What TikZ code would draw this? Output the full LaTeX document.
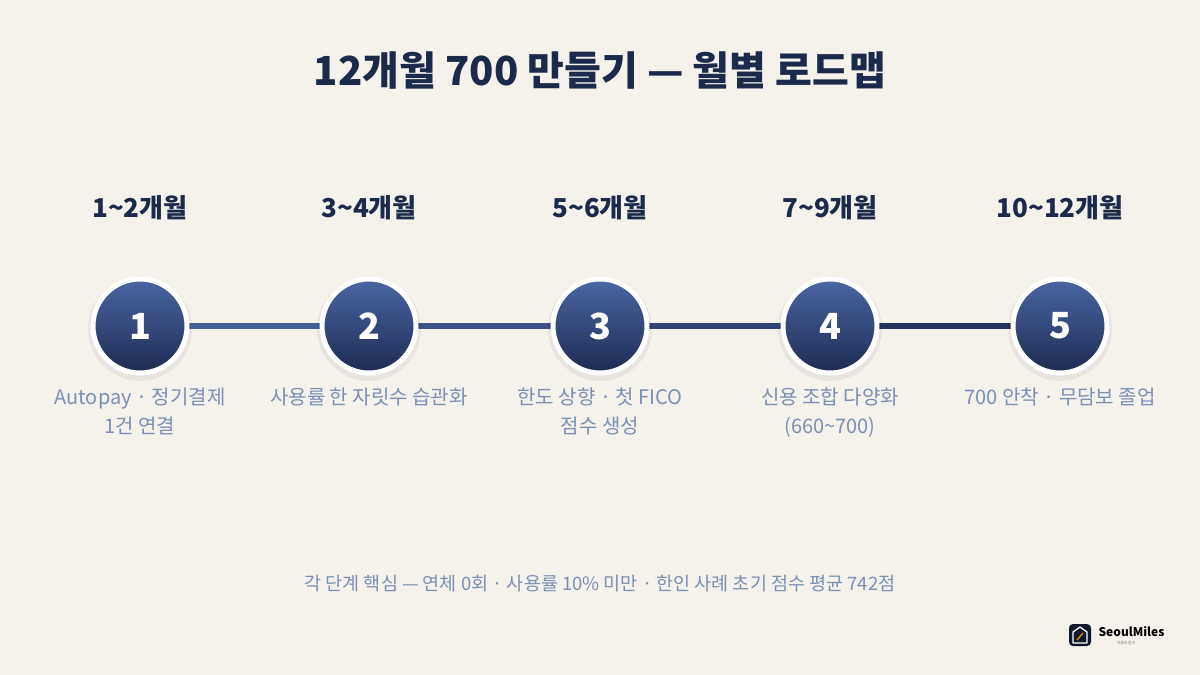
\documentclass[tikz,border=0pt]{standalone}
\usepackage{fontspec}
\setmainfont{Noto Sans CJK KR}
\definecolor{bg}{HTML}{F5F1EB}
\definecolor{navy}{HTML}{1B2A4A}
\definecolor{cap}{HTML}{7A90B5}
\definecolor{ctop}{HTML}{4A66A3}
\definecolor{cbot}{HTML}{1E2B52}
\begin{document}
\begin{tikzpicture}[x=1pt,y=-1pt,
  period/.style={font=\fontsize{26}{30}\selectfont\bfseries, text=navy},
  desc/.style={font=\fontsize{20}{29}\selectfont, text=cap, align=center, anchor=north},
  stepc/.style={circle, minimum size=94pt, draw=white, line width=5pt, text=white, font=\fontsize{36}{36}\selectfont\bfseries}]
\fill[bg] (0,0) rectangle (1200,675);
\useasboundingbox (0,0) rectangle (1200,675);
\node[font=\fontsize{40}{46}\selectfont\bfseries, text=navy] (title) at (600,70) {12개월 700 만들기 — 월별 로드맵};
\foreach \i/\x/\p in {1/140/1\textasciitilde2개월,2/369/3\textasciitilde4개월,3/600/5\textasciitilde6개월,4/830/7\textasciitilde9개월,5/1060/10\textasciitilde12개월}{
  \node[period] (p\i) at (\x,208) {\p};
}
\draw[line width=6pt, color=ctop!90!cbot] (140,326) -- (369,326);
\draw[line width=6pt, color=ctop!65!cbot] (369,326) -- (600,326);
\draw[line width=6pt, color=ctop!40!cbot] (600,326) -- (830,326);
\draw[line width=6pt, color=ctop!15!cbot] (830,326) -- (1060,326);
\foreach \i/\x in {1/140,2/369,3/600,4/830,5/1060}{
  \fill[black,opacity=0.05] (\x,329) circle (52);
  \shade[top color=ctop, bottom color=cbot] (\x,326) circle (47);
  \node[stepc] (c\i) at (\x,326) {\i};
}
\node[desc] (d1) at (140,384) {Autopay · 정기결제\\1건 연결};
\node[desc] (d2) at (369,384) {사용률 한 자릿수 습관화};
\node[desc] (d3) at (600,384) {한도 상향 · 첫 FICO\\점수 생성};
\node[desc] (d4) at (830,384) {신용 조합 다양화\\(660\textasciitilde700)};
\node[desc] (d5) at (1060,384) {700 안착 · 무담보 졸업};
\node[font=\fontsize{18.5}{22}\selectfont, text=cap] (foot) at (600,584) {각 단계 핵심 — 연체 0회 · 사용률 10\% 미만 · 한인 사례 초기 점수 평균 742점};
\fill[navy!60!black, rounded corners=4pt] (1069,624) rectangle (1091,646);
\draw[white, line width=1.3pt, line join=round] (1073,643) -- (1073,632) -- (1080,627) -- (1087,632) -- (1087,643) -- cycle;
\draw[orange!80!yellow, line width=1.2pt] (1077,640) -- (1083,633);
\node[anchor=west, font=\fontsize{12}{12}\selectfont\bfseries, text=black] (logo) at (1095,632) {SeoulMiles};
\node[font=\fontsize{4}{4}\selectfont, text=gray] (logosub) at (1126,643) {서울마일즈};
\end{tikzpicture}
\end{document}
